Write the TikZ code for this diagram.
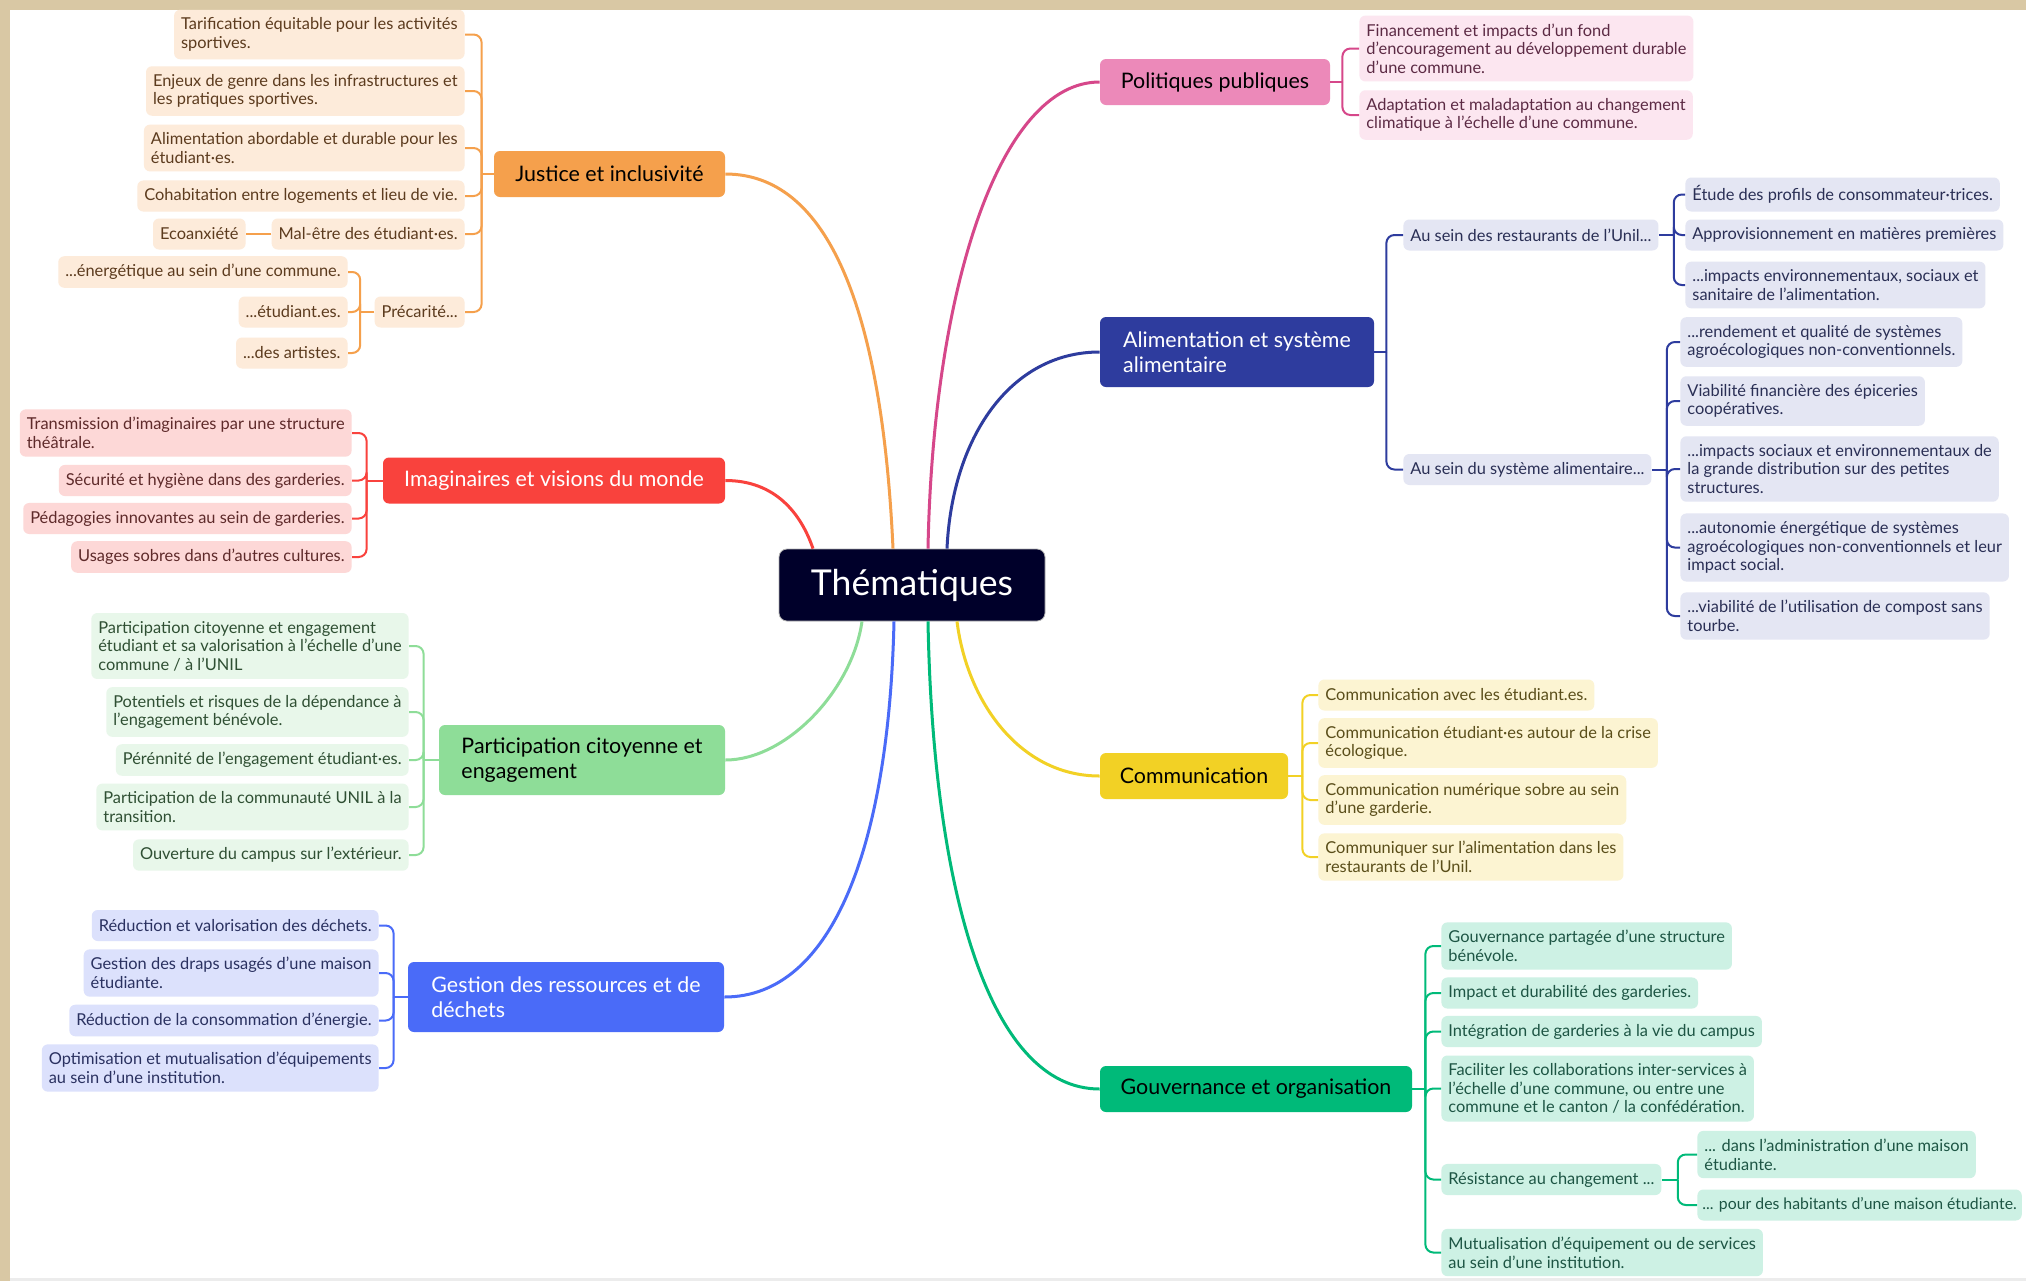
\documentclass[tikz,border=0pt]{standalone}
\usepackage{fontspec}
\setmainfont{Lato}
\usetikzlibrary{calc}

\definecolor{frameC}{HTML}{D9C8A4}
\definecolor{theN}{HTML}{00002A}
\definecolor{jusC}{HTML}{F5A04C} \definecolor{jusL}{HTML}{FDEBDA} \definecolor{jusT}{HTML}{5C3B1E}
\definecolor{imaC}{HTML}{F9423D} \definecolor{imaL}{HTML}{FDD8D7} \definecolor{imaT}{HTML}{5E2A2A}
\definecolor{parC}{HTML}{8EDD98} \definecolor{parL}{HTML}{E8F7EA} \definecolor{parT}{HTML}{2F4F33}
\definecolor{gesC}{HTML}{4A6BF8} \definecolor{gesL}{HTML}{DCE1FC} \definecolor{gesT}{HTML}{2A3160}
\definecolor{polC}{HTML}{EC89B9} \definecolor{polD}{HTML}{D6478A} \definecolor{polL}{HTML}{FCE6F0} \definecolor{polT}{HTML}{5C2A44}
\definecolor{aliC}{HTML}{2E3C9E} \definecolor{aliL}{HTML}{E4E6F3} \definecolor{aliT}{HTML}{2A2F55}
\definecolor{comC}{HTML}{F2D125} \definecolor{comL}{HTML}{FCF4D2} \definecolor{comT}{HTML}{5A4E1A}
\definecolor{gouC}{HTML}{00BA79} \definecolor{gouL}{HTML}{CDF1E4} \definecolor{gouT}{HTML}{1D5544}

\newcommand\leaffont{\fontsize{8.2}{9.3}\selectfont}
\newcommand\topicfont{\fontsize{10.7}{12.3}\selectfont}

\tikzset{
  leaf/.style={rounded corners=3pt, inner xsep=3.5pt, inner ysep=4pt,
    minimum height=15.5pt, align=left, font=\leaffont},
  topic/.style={rounded corners=3pt, inner xsep=9pt, inner ysep=5pt,
    minimum height=23pt, align=left, font=\topicfont},
  link/.style={line width=1pt, rounded corners=4pt},
  branch/.style={line width=1.5pt},
  jl/.style={leaf, fill=jusL, text=jusT, anchor=east},
  il/.style={leaf, fill=imaL, text=imaT, anchor=east},
  pl/.style={leaf, fill=parL, text=parT, anchor=east},
  gl/.style={leaf, fill=gesL, text=gesT, anchor=east},
  ppl/.style={leaf, fill=polL, text=polT, anchor=west},
  al/.style={leaf, fill=aliL, text=aliT, anchor=west},
  cl/.style={leaf, fill=comL, text=comT, anchor=west},
  ol/.style={leaf, fill=gouL, text=gouT, anchor=west},
}

\begin{document}
\begin{tikzpicture}[x=0.5pt,y=-0.5pt]
  \useasboundingbox (0,0) rectangle (2026,1281);
  \fill[frameC] (0,0) rectangle (2026,1281);
  \fill[white] (10,10) rectangle (2026,1278);
  \fill[gray!15] (10,1278) rectangle (2026,1281);

  % centre and topics
  \node[rounded corners=4pt, fill=theN, draw=gray!60, text=white, minimum width=133pt,
    minimum height=36pt, font=\fontsize{17.8}{20}\selectfont] (the) at (912,585) {Thématiques};

  \node[topic, fill=jusC, minimum width=115.5pt] (jus) at (609.5,174) {Justice et inclusivité};
  \node[topic, fill=imaC, text=white, minimum width=171pt] (ima) at (554,480.5) {Imaginaires et visions du monde};
  \node[topic, fill=parC, minimum width=143pt, minimum height=35pt] (par) at (582,760) {Participation citoyenne et\\engagement};
  \node[topic, fill=gesC, text=white, minimum width=158pt, minimum height=35pt] (ges) at (566,997) {Gestion des ressources et de\\déchets};
  \node[topic, fill=polC, minimum width=115pt] (pol) at (1215,82) {Politiques publiques};
  \node[topic, fill=aliC, text=white, minimum width=137pt, minimum height=35pt] (ali) at (1237,352) {Alimentation et système\\alimentaire};
  \node[topic, fill=comC, minimum width=94pt] (com) at (1194,776) {Communication};
  \node[topic, fill=gouC, minimum width=156pt] (gou) at (1256,1089) {Gouvernance et organisation};

  \draw[branch, jusC] (jus.east) .. controls +(110,0) and +(-10,-220) .. (893,0 |- the.north);
  \draw[branch, imaC] (ima.east) .. controls +(50,0) and +(-12,-35) .. (813,0 |- the.north);
  \draw[branch, polD] (928,0 |- the.north) .. controls +(5,-260) and +(-100,0) .. (pol.west);
  \draw[branch, aliC] (947,0 |- the.north) .. controls +(5,-110) and +(-90,0) .. (ali.west);
  \draw[branch, parC] (862,0 |- the.south) .. controls +(-10,70) and +(60,0) .. (par.east);
  \draw[branch, gesC] (894,0 |- the.south) .. controls +(-5,220) and +(110,0) .. (ges.east);
  \draw[branch, gouC] (928,0 |- the.south) .. controls +(5,270) and +(-110,0) .. (gou.west);
  \draw[branch, comC] (957,0 |- the.south) .. controls +(10,80) and +(-80,0) .. (com.west);

  % Justice et inclusivite
  \node[jl] (jus1) at (465,34.5) {Tarification équitable pour les activités\\sportives.};
  \node[jl] (jus2) at (465,91) {Enjeux de genre dans les infrastructures et\\les pratiques sportives.};
  \node[jl] (jus3) at (465,148) {Alimentation abordable et durable pour les\\étudiant·es.};
  \node[jl] (jus4) at (465,196) {Cohabitation entre logements et lieu de vie.};
  \node[jl] (jus5) at (465,234) {Mal-être des étudiant·es.};
  \node[jl] (jus6) at (465,312) {Précarité...};
  \node[jl] (eco) at (246,234) {Ecoanxiété};
  \node[jl] (pre1) at (348,272) {...énergétique au sein d'une commune.};
  \node[jl] (pre2) at (348,312) {...étudiant.es.};
  \node[jl] (pre3) at (348,353) {...des artistes.};

  \draw[link, jusC] (jus.west) -- ++(-12,0) coordinate (jus-j);
  \foreach \c in {jus1,jus2,jus3,jus4,jus5,jus6}
    \draw[link, jusC] (jus-j) |- (\c.east);
  \draw[link, jusC] (jus5.west) -- (eco.east);
  \draw[link, jusC] (jus6.west) -- ++(-14,0) coordinate (pre-j);
  \foreach \c in {pre1,pre2,pre3}
    \draw[link, jusC] (pre-j) |- (\c.east);

  % Imaginaires
  \node[il] (ima1) at (352,433) {Transmission d'imaginaires par une structure\\théâtrale.};
  \node[il] (ima2) at (352,480.5) {Sécurité et hygiène dans des garderies.};
  \node[il] (ima3) at (352,518.5) {Pédagogies innovantes au sein de garderies.};
  \node[il] (ima4) at (352,557) {Usages sobres dans d'autres cultures.};
  \draw[link, imaC] (ima.west) -- ++(-16,0) coordinate (ima-j);
  \foreach \c in {ima1,ima2,ima3,ima4}
    \draw[link, imaC] (ima-j) |- (\c.east);

  % Participation
  \node[pl] (par1) at (409,646) {Participation citoyenne et engagement\\étudiant et sa valorisation à l'échelle d'une\\commune / à l'UNIL};
  \node[pl] (par2) at (409,712) {Potentiels et risques de la dépendance à\\l'engagement bénévole.};
  \node[pl] (par3) at (409,760) {Pérénnité de l'engagement étudiant·es.};
  \node[pl] (par4) at (409,807) {Participation de la communauté UNIL à la\\transition.};
  \node[pl] (par5) at (409,855) {Ouverture du campus sur l'extérieur.};
  \draw[link, parC] (par.west) -- ++(-15,0) coordinate (par-j);
  \foreach \c in {par1,par2,par3,par4,par5}
    \draw[link, parC] (par-j) |- (\c.east);

  % Gestion
  \node[gl] (ges1) at (379,925.5) {Réduction et valorisation des déchets.};
  \node[gl] (ges2) at (379,973) {Gestion des draps usagés d'une maison\\étudiante.};
  \node[gl] (ges3) at (379,1020.5) {Réduction de la consommation d'énergie.};
  \node[gl] (ges4) at (379,1068) {Optimisation et mutualisation d'équipements\\au sein d'une institution.};
  \draw[link, gesC] (ges.west) -- ++(-14,0) coordinate (ges-j);
  \foreach \c in {ges1,ges2,ges3,ges4}
    \draw[link, gesC] (ges-j) |- (\c.east);

  % Politiques publiques
  \node[ppl] (pol1) at (1359,48.5) {Financement et impacts d'un fond\\d'encouragement au développement durable\\d'une commune.};
  \node[ppl] (pol2) at (1359,115) {Adaptation et maladaptation au changement\\climatique à l'échelle d'une commune.};
  \draw[link, polD] (pol.east) -- ++(12,0) coordinate (pol-j);
  \foreach \c in {pol1,pol2}
    \draw[link, polD] (pol-j) |- (\c.west);

  % Alimentation
  \node[al] (ali1) at (1403,235) {Au sein des restaurants de l'Unil...};
  \node[al] (ali2) at (1403,469.5) {Au sein du système alimentaire...};
  \node[al] (res1) at (1685,194.5) {Étude des profils de consommateur·trices.};
  \node[al] (res2) at (1685,235) {Approvisionnement en matières premières};
  \node[al] (res3) at (1685,285) {...impacts environnementaux, sociaux et\\sanitaire de l'alimentation.};
  \node[al] (sys1) at (1680,342) {...rendement et qualité de systèmes\\agroécologiques non-conventionnels.};
  \node[al] (sys2) at (1680,401) {Viabilité financière des épiceries\\coopératives.};
  \node[al] (sys3) at (1680,469) {...impacts sociaux et environnementaux de\\la grande distribution sur des petites\\structures.};
  \node[al] (sys4) at (1680,547.5) {...autonomie énergétique de systèmes\\agroécologiques non-conventionnels et leur\\impact social.};
  \node[al] (sys5) at (1680,616) {...viabilité de l'utilisation de compost sans\\tourbe.};
  \draw[link, aliC] (ali.east) -- ++(12,0) coordinate (ali-j);
  \foreach \c in {ali1,ali2}
    \draw[link, aliC] (ali-j) |- (\c.west);
  \draw[link, aliC] (ali1.east) -- ++(15,0) coordinate (res-j);
  \foreach \c in {res1,res2,res3}
    \draw[link, aliC] (res-j) |- (\c.west);
  \draw[link, aliC] (ali2.east) -- ++(15,0) coordinate (sys-j);
  \foreach \c in {sys1,sys2,sys3,sys4,sys5}
    \draw[link, aliC] (sys-j) |- (\c.west);

  % Communication
  \node[cl] (com1) at (1318,695) {Communication avec les étudiant.es.};
  \node[cl] (com2) at (1318,743) {Communication étudiant·es autour de la crise\\écologique.};
  \node[cl] (com3) at (1318,800) {Communication numérique sobre au sein\\d'une garderie.};
  \node[cl] (com4) at (1318,857) {Communiquer sur l'alimentation dans les\\restaurants de l'Unil.};
  \draw[link, comC] (com.east) -- ++(14,0) coordinate (com-j);
  \foreach \c in {com1,com2,com3,com4}
    \draw[link, comC] (com-j) |- (\c.west);

  % Gouvernance
  \node[ol] (gou1) at (1441,946) {Gouvernance partagée d'une structure\\bénévole.};
  \node[ol] (gou2) at (1441,993) {Impact et durabilité des garderies.};
  \node[ol] (gou3) at (1441,1031.5) {Intégration de garderies à la vie du campus};
  \node[ol] (gou4) at (1441,1088.5) {Faciliter les collaborations inter-services à\\l'échelle d'une commune, ou entre une\\commune et le canton / la confédération.};
  \node[ol] (gou5) at (1441,1179.5) {Résistance au changement ...};
  \node[ol] (gou6) at (1441,1252.5) {Mutualisation d'équipement ou de services\\au sein d'une institution.};
  \node[ol] (rsi1) at (1697,1154.5) {... dans l'administration d'une maison\\étudiante.};
  \node[ol, inner xsep=2.5pt, font=\fontsize{7.9}{9.3}\selectfont] (rsi2) at (1697,1205) {... pour des habitants d'une maison étudiante.};
  \draw[link, gouC] (gou.east) -- ++(13,0) coordinate (gou-j);
  \foreach \c in {gou1,gou2,gou3,gou4,gou5,gou6}
    \draw[link, gouC] (gou-j) |- (\c.west);
  \draw[link, gouC] (gou5.east) -- ++(16,0) coordinate (rsi-j);
  \foreach \c in {rsi1,rsi2}
    \draw[link, gouC] (rsi-j) |- (\c.west);
\end{tikzpicture}
\end{document}
